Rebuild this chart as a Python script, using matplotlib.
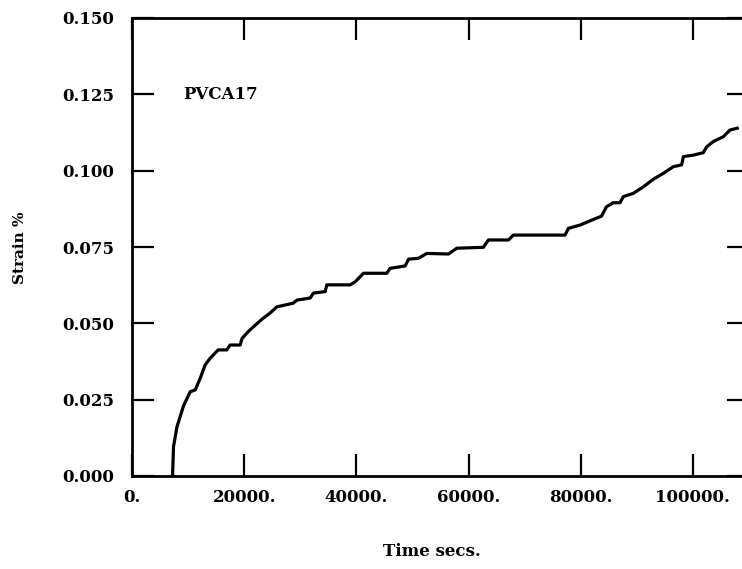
import matplotlib
matplotlib.use("Agg")
import matplotlib.pyplot as plt

# Data (time in seconds, strain in %)
time_s = [7230, 7400, 8000, 9190, 10380, 11270, 12160, 13050, 13940, 15370,
          16900, 17500, 19290, 19600, 20720, 21970, 23400, 24640, 25820, 28740,
          29400, 31770, 32350, 34440, 34730, 38900, 39800, 41270, 45430, 46000,
          48700, 49300, 51070, 52560, 56420, 57900, 62650, 63540, 67100, 68000,
          77200, 77800, 79900, 81960, 83700, 84600, 85800, 87000, 87600, 89400,
          91160, 92950, 94700, 96500, 98000, 98300, 100100, 101850, 102450,
          103600, 105400, 106600, 107900]
strain = [0.0, 0.0096, 0.016, 0.023, 0.0276, 0.0282, 0.032, 0.0364, 0.0386, 0.0413,
          0.0413, 0.0429, 0.0429, 0.045, 0.0473, 0.0494, 0.0517, 0.0534, 0.0554, 0.0566,
          0.0576, 0.0583, 0.0599, 0.0604, 0.0626, 0.0626, 0.0636, 0.0664, 0.0664, 0.068,
          0.0688, 0.071, 0.0713, 0.0729, 0.0727, 0.0746, 0.0749, 0.0773, 0.0773, 0.0789,
          0.0789, 0.0811, 0.0822, 0.0838, 0.0851, 0.0882, 0.0895, 0.0895, 0.0915, 0.0926,
          0.0947, 0.0972, 0.0991, 0.1013, 0.1019, 0.1046, 0.1051, 0.1059, 0.1078,
          0.1095, 0.1111, 0.1133, 0.1139]

x_ticks = [0, 20000, 40000, 60000, 80000, 100000]
x_tick_labels = ["0.", "20000.", "40000.", "60000.", "80000.", "100000."]
y_ticks = [0.0, 0.025, 0.05, 0.075, 0.1, 0.125, 0.15]
y_tick_labels = ["0.000", "0.025", "0.050", "0.075", "0.100", "0.125", "0.150"]

FONT = "DejaVu Serif"

fig = plt.figure(figsize=(7.42, 5.69), dpi=100)
ax = fig.add_axes([132 / 742, (569 - 476) / 569, 617 / 742, 458 / 569])

ax.plot(time_s, strain, color="black", lw=2.3, solid_joinstyle="round")

ax.set_xlim(0, 110000)
ax.set_ylim(0, 0.150)
ax.set_xticks(x_ticks)
ax.set_xticklabels(x_tick_labels)
ax.set_yticks(y_ticks)
ax.set_yticklabels(y_tick_labels)

for s in ax.spines.values():
    s.set_linewidth(2.0)

ax.tick_params(axis="both", direction="in", length=16, width=1.6,
               top=True, right=True)
ax.tick_params(axis="x", pad=9)
ax.tick_params(axis="y", pad=13)
for lab in ax.get_xticklabels() + ax.get_yticklabels():
    lab.set_fontfamily(FONT)
    lab.set_fontweight("bold")
    lab.set_fontsize(12)

ax.text(9100, 0.125, "PVCA17", fontfamily=FONT, fontweight="bold",
        fontsize=12, ha="left", va="center")

fig.text(432 / 742, 1 - 552 / 569, "Time secs.", fontfamily=FONT,
         fontweight="bold", fontsize=12, ha="center", va="center")
fig.text(20 / 742, 1 - 248 / 569, "Strain %", fontfamily=FONT,
         fontweight="bold", fontsize=11, ha="center", va="center",
         rotation=90)

fig.savefig("out.png", dpi=100)
